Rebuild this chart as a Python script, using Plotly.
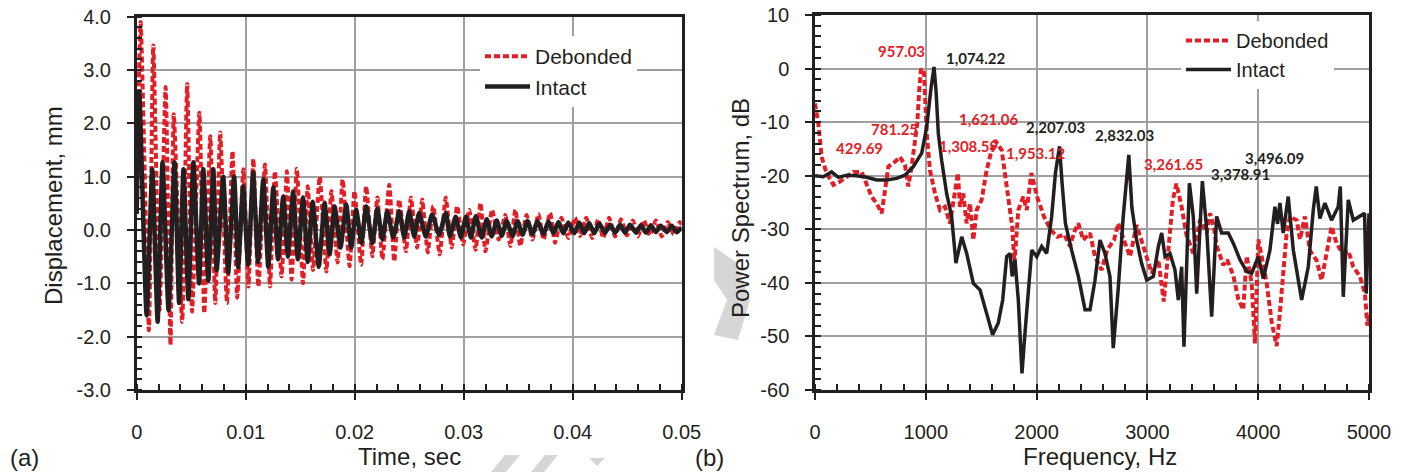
import plotly.graph_objects as go

# ---------------- data: (a) displacement time history ----------------
deb_time_ms = [0.0, 0.36, 1.12, 1.52, 2.10, 2.65, 3.10, 3.40, 4.17, 4.63,
               5.08, 5.75, 6.20, 6.75, 7.21, 7.66, 8.28, 8.79, 9.22, 9.79,
               10.25, 10.70, 11.16, 11.77, 12.23, 12.68, 13.29, 13.78, 14.21, 14.69,
               15.26, 15.69, 16.18, 16.79, 17.40, 17.86, 18.43, 18.89, 19.53, 19.98,
               20.59, 21.05, 21.62, 22.08, 22.54, 23.17, 23.63, 24.08, 24.70, 25.15,
               25.73, 26.19, 26.70, 27.20, 27.80, 28.35, 28.90, 29.40, 29.95, 30.50,
               31.09, 31.54, 32.00, 32.60, 33.21, 33.82, 34.28, 34.74, 35.19, 35.77,
               36.31, 36.86, 37.32, 37.93, 38.38, 38.96, 39.60, 40.21, 40.69, 41.24,
               41.79, 42.34, 42.79, 43.34, 43.89, 44.43, 44.98, 45.53, 45.99, 46.53,
               47.08, 47.63, 48.17, 48.72, 49.27, 49.82, 50.0]
deb_disp_mm = [0.5, 3.9, -1.88, 3.46, -1.5, 2.68, -2.16, 2.17, -1.72, 2.74,
               -1.53, 2.2, -1.56, 1.76, -1.37, 1.83, -1.37, 1.48, -1.27, 1.14,
               -1.06, 1.33, -1.06, 1.23, -1.06, 1.1, -0.87, 1.1, -0.93, 1.15,
               -1.0, 0.82, -0.75, 1.0, -0.78, 0.73, -0.61, 0.95, -0.68, 0.73,
               -0.65, 0.82, -0.49, 0.61, -0.55, 0.85, -0.59, 0.57, -0.40, 0.61,
               -0.33, 0.57, -0.42, 0.45, -0.46, 0.61, -0.33, 0.45, -0.27, 0.38,
               -0.37, 0.51, -0.40, 0.38, -0.18, 0.28, -0.30, 0.38, -0.30, 0.28,
               -0.18, 0.30, -0.18, 0.32, -0.24, 0.23, -0.15, 0.23, -0.11, 0.23,
               -0.15, 0.20, -0.15, 0.23, -0.12, 0.20, -0.10, 0.18, -0.12, 0.18,
               -0.10, 0.18, -0.12, 0.15, -0.08, 0.15, 0.10]

int_time_ms = [0.0, 0.23, 0.91, 1.43, 1.92, 2.37, 2.92, 3.47, 3.89, 4.29,
               4.74, 5.20, 5.72, 6.11, 6.57, 7.03, 7.34, 7.94, 8.39, 8.94,
               9.31, 9.76, 10.22, 10.68, 11.13, 11.61, 12.07, 12.53, 12.96, 13.44,
               13.87, 14.35, 14.78, 15.26, 15.69, 16.15, 16.70, 17.24, 17.70, 18.16,
               18.70, 19.22, 19.68, 20.14, 20.62, 21.05, 21.62, 22.08, 22.54, 22.99,
               23.54, 24.09, 24.54, 25.00, 25.46, 25.91, 26.52, 27.10, 27.74, 28.35,
               28.74, 29.26, 29.74, 30.20, 30.66, 31.11, 31.66, 32.12, 32.57, 33.03,
               33.49, 33.94, 34.49, 34.94, 35.40, 35.86, 36.31, 36.77, 37.32, 37.77,
               38.23, 38.69, 39.14, 39.60, 40.15, 40.60, 41.06, 41.51, 41.97, 42.43,
               42.97, 43.43, 43.89, 44.34, 44.80, 45.26, 45.80, 46.26, 46.71, 47.17,
               47.63, 48.08, 48.63, 49.09, 49.54, 50.0]
int_disp_mm = [0.3, 2.6, -1.6, 1.14, -1.72, 1.27, -1.5, 1.27, -1.37, 1.14,
               -1.3, 1.27, -1.0, 1.14, -0.95, 1.14, -0.75, 1.0, -0.8, 1.0,
               -0.7, 0.82, -0.65, 1.08, -0.6, 0.95, -0.69, 0.8, -0.55, 0.63,
               -0.5, 0.72, -0.55, 0.61, -0.6, 0.53, -0.69, 0.51, -0.46, 0.44,
               -0.33, 0.48, -0.33, 0.38, -0.24, 0.44, -0.24, 0.40, -0.18, 0.35,
               -0.14, 0.35, -0.14, 0.35, -0.12, 0.32, -0.12, 0.29, -0.09, 0.32,
               -0.12, 0.25, -0.14, 0.25, -0.14, 0.26, -0.14, 0.20, -0.12, 0.18,
               -0.11, 0.17, -0.11, 0.17, -0.09, 0.17, -0.08, 0.17, -0.08, 0.16,
               -0.06, 0.15, -0.06, 0.14, -0.06, 0.14, -0.06, 0.13, -0.06, 0.12,
               -0.05, 0.10, -0.05, 0.10, -0.05, 0.10, -0.05, 0.09, -0.05, 0.09,
               -0.04, 0.08, -0.04, 0.08, -0.04, 0.05]

# ---------------- data: (b) power spectrum ----------------
deb_freq_hz = [0, 30, 60, 105, 166, 226, 286, 346, 421, 466,
               511, 557, 602, 632, 662, 722, 767, 812, 842, 872,
               902, 923, 941, 957, 984, 1008, 1038, 1083, 1128, 1173,
               1218, 1254, 1290, 1308, 1338, 1368, 1399, 1429, 1459, 1504,
               1549, 1594, 1625, 1685, 1730, 1780, 1800, 1835, 1880, 1911,
               1953, 2004, 2066, 2127, 2188, 2250, 2301, 2340, 2377, 2421,
               2482, 2527, 2587, 2638, 2699, 2737, 2798, 2843, 2903, 2948,
               2994, 3039, 3099, 3148, 3189, 3230, 3262, 3309, 3352, 3384,
               3414, 3475, 3536, 3565, 3598, 3625, 3685, 3720, 3775, 3820,
               3865, 3896, 3941, 3971, 4001, 4031, 4076, 4122, 4167, 4198,
               4226, 4257, 4287, 4347, 4377, 4422, 4467, 4527, 4572, 4617,
               4662, 4707, 4761, 4813, 4858, 4918, 4963, 4985, 5000]
deb_power_db = [-6.5, -10.2, -16.5, -19.6, -21.7, -21.1, -20.2, -19.3, -19.3, -21.4,
                -23.9, -25.2, -27.0, -22.7, -18.3, -17.4, -16.5, -18.0, -22.0, -18.3,
                -13.4, -10.2, -4.0, 0.0, -0.9, -12.1, -19.0, -23.3, -26.4, -25.8,
                -28.9, -23.9, -19.5, -25.8, -23.3, -28.9, -25.2, -32.0, -26.4, -24.5,
                -19.0, -15.2, -13.4, -15.2, -21.4, -29.5, -36.3, -26.4, -23.9, -26.4,
                -19.5, -23.9, -27.6, -30.1, -31.4, -31.0, -33.2, -30.5, -28.9, -32.0,
                -30.7, -35.1, -37.6, -33.8, -32.0, -28.9, -32.6, -35.1, -29.2, -32.0,
                -35.1, -38.2, -35.7, -43.5, -33.9, -24.5, -21.5, -25.8, -31.0, -33.0,
                -34.5, -28.2, -30.7, -27.0, -29.5, -33.0, -36.7, -35.7, -38.6, -43.0,
                -45.0, -35.0, -40.0, -51.3, -31.9, -35.0, -40.0, -47.4, -51.8, -45.0,
                -38.6, -30.7, -27.6, -28.3, -31.9, -27.6, -34.0, -35.8, -39.5, -34.0,
                -29.5, -32.6, -34.5, -34.0, -37.0, -38.8, -41.9, -48.0, -46.0]

int_freq_hz = [0, 75, 150, 211, 286, 376, 466, 557, 647, 737,
               812, 887, 963, 1008, 1045, 1074, 1092, 1113, 1143, 1188,
               1233, 1272, 1324, 1369, 1429, 1489, 1549, 1603, 1654, 1694,
               1730, 1760, 1780, 1805, 1835, 1868, 1895, 1926, 1956, 2001,
               2046, 2091, 2136, 2170, 2207, 2230, 2260, 2316, 2377, 2437,
               2482, 2527, 2572, 2617, 2662, 2692, 2737, 2782, 2832, 2860,
               2903, 2948, 2994, 3054, 3099, 3129, 3159, 3204, 3249, 3279,
               3309, 3330, 3360, 3379, 3414, 3445, 3496, 3535, 3580, 3625,
               3670, 3730, 3775, 3836, 3896, 3941, 4001, 4046, 4106, 4151,
               4175, 4196, 4226, 4271, 4317, 4392, 4452, 4497, 4524, 4557,
               4602, 4662, 4722, 4741, 4768, 4813, 4858, 4918, 4960, 4975, 5000]
int_power_db = [-20.0, -20.2, -19.3, -20.3, -19.9, -20.0, -20.3, -20.8, -20.8, -20.5,
                -19.9, -18.3, -15.8, -10.9, -4.0, 0.3, -4.0, -12.1, -17.1, -23.3,
                -27.6, -36.3, -31.4, -34.5, -40.1, -41.3, -45.7, -49.7, -47.5, -43.2,
                -35.1, -34.5, -38.8, -35.7, -43.2, -56.9, -49.4, -40.7, -33.9, -35.1,
                -33.2, -34.5, -27.6, -19.5, -14.5, -21.4, -28.9, -33.9, -38.8, -45.0,
                -45.0, -39.5, -32.0, -34.5, -38.8, -52.2, -41.0, -27.6, -16.1, -26.0,
                -32.0, -36.4, -39.5, -38.8, -33.2, -30.7, -35.1, -34.5, -37.6, -43.2,
                -37.0, -51.9, -30.7, -21.4, -27.6, -42.0, -21.0, -30.0, -46.3, -27.6,
                -30.7, -30.7, -32.6, -35.7, -37.9, -38.2, -35.1, -39.2, -33.9, -25.8,
                -29.0, -25.1, -30.7, -23.9, -33.9, -43.2, -37.0, -26.4, -22.0, -28.0,
                -25.1, -28.3, -25.8, -22.0, -42.6, -24.5, -28.3, -27.6, -27.0, -42.0, -27.0]

# peak labels (frequency text, colour group)
deb_peak_labels = ["957.03", "781.25", "429.69", "1,308.59", "1,621.06", "1,953.12", "3,261.65"]
deb_peak_x = [785, 713, 406, 1384, 1570, 1992, 3240]
deb_peak_y = [3.2, -11.2, -14.8, -14.5, -9.5, -15.7, -17.8]
int_peak_labels = ["1,074.22", "2,207.03", "2,832.03", "3,378.91", "3,496.09"]
int_peak_x = [1450, 2172, 2795, 3836, 4147]
int_peak_y = [1.9, -10.85, -12.4, -19.7, -16.6]

# tick labels
time_ticks = [0, 0.01, 0.02, 0.03, 0.04, 0.05]
time_ticktext = ["0", "0.01", "0.02", "0.03", "0.04", "0.05"]
disp_ticks = [-3, -2, -1, 0, 1, 2, 3, 4]
disp_ticktext = ["-3.0", "-2.0", "-1.0", "0.0", "1.0", "2.0", "3.0", "4.0"]
freq_ticks = [0, 1000, 2000, 3000, 4000, 5000]
freq_ticktext = ["0", "1000", "2000", "3000", "4000", "5000"]
db_ticks = [-60, -50, -40, -30, -20, -10, 0, 10]
db_ticktext = ["-60", "-50", "-40", "-30", "-20", "-10", "0", "10"]

# ---------------- style ----------------
W, H = 1407, 472
RED = "#E21E26"
BLK = "#231F20"
GRID = "#A0A0A0"
FONT = "Liberation Sans, Arial, sans-serif"


def px(x):
    return x / W


def py(y):
    return 1 - y / H


fig = go.Figure()

fig.add_trace(go.Scatter(x=[t / 1000 for t in deb_time_ms], y=deb_disp_mm, name="Debonded",
                         mode="lines", line=dict(color=RED, width=4, dash="6px,3px", shape="spline", smoothing=0.5),
                         xaxis="x", yaxis="y", legend="legend"))
fig.add_trace(go.Scatter(x=[t / 1000 for t in int_time_ms], y=int_disp_mm, name="Intact",
                         mode="lines", line=dict(color=BLK, width=4.5, shape="spline", smoothing=0.5),
                         xaxis="x", yaxis="y", legend="legend"))
fig.add_trace(go.Scatter(x=deb_freq_hz, y=deb_power_db, name="Debonded",
                         mode="lines", line=dict(color=RED, width=4, dash="6px,3px"),
                         xaxis="x2", yaxis="y2", legend="legend2"))
fig.add_trace(go.Scatter(x=int_freq_hz, y=int_power_db, name="Intact",
                         mode="lines", line=dict(color=BLK, width=3.5),
                         xaxis="x2", yaxis="y2", legend="legend2"))

common = dict(showgrid=True, gridcolor=GRID, gridwidth=2, showline=True, linecolor=BLK,
              linewidth=2.5, mirror=True, ticks="outside", ticklen=7, tickwidth=2, tickcolor=BLK,
              zeroline=False, automargin=False, tickmode="array",
              tickfont=dict(family=FONT, size=20, color=BLK))

fig.update_layout(
    width=W, height=H, margin=dict(l=0, r=0, t=0, b=0),
    paper_bgcolor="white", plot_bgcolor="white",
    xaxis=dict(domain=[px(136.7), px(681.7)], range=[0, 0.05], tickvals=time_ticks, ticktext=time_ticktext,
               anchor="y", ticklabelstandoff=15,
               minor=dict(dtick=0.002, tick0=0, ticks="inside", ticklen=6, tickwidth=2, tickcolor=BLK, showgrid=False),
               **common),
    yaxis=dict(domain=[py(390), py(16.7)], range=[-3, 4], tickvals=disp_ticks, ticktext=disp_ticktext,
               anchor="x", ticklabelstandoff=12,
               minor=dict(dtick=0.2, tick0=0, ticks="inside", ticklen=6, tickwidth=2, tickcolor=BLK, showgrid=False),
               **common),
    xaxis2=dict(domain=[px(815), px(1369)], range=[0, 5000], tickvals=freq_ticks, ticktext=freq_ticktext,
                anchor="y2", ticklabelstandoff=15,
                minor=dict(dtick=200, tick0=0, ticks="inside", ticklen=6, tickwidth=2, tickcolor=BLK, showgrid=False),
                **common),
    yaxis2=dict(domain=[py(390), py(15)], range=[-60, 10], tickvals=db_ticks, ticktext=db_ticktext,
                anchor="x2", ticklabelstandoff=12,
                minor=dict(dtick=2, tick0=0, ticks="inside", ticklen=6, tickwidth=2, tickcolor=BLK, showgrid=False),
                **common),
    legend=dict(x=px(480), y=py(36), xanchor="left", yanchor="top", bgcolor="white",
                font=dict(family=FONT, size=21, color=BLK), itemwidth=45, tracegroupgap=0),
    legend2=dict(x=px(1181), y=py(21), xanchor="left", yanchor="top", bgcolor="white",
                 font=dict(family=FONT, size=20, color=BLK), itemwidth=45, tracegroupgap=0),
    showlegend=True,
)

ann = []
TITLE = dict(family=FONT, size=24, color=BLK)
ann.append(dict(text="Time, sec", x=px(409), y=py(456), xref="paper", yref="paper",
                showarrow=False, font=TITLE, xanchor="center", yanchor="middle"))
ann.append(dict(text="Frequency, Hz", x=px(1100), y=py(456), xref="paper", yref="paper",
                showarrow=False, font=TITLE, xanchor="center", yanchor="middle"))
ann.append(dict(text="Displacement, mm", x=px(54), y=py(206), xref="paper", yref="paper", textangle=-90,
                showarrow=False, font=TITLE, xanchor="center", yanchor="middle"))
ann.append(dict(text="Power Spectrum, dB", x=px(741), y=py(208), xref="paper", yref="paper", textangle=-90,
                showarrow=False, font=TITLE, xanchor="center", yanchor="middle"))
ann.append(dict(text="(a)", x=px(24), y=py(457), xref="paper", yref="paper",
                showarrow=False, font=TITLE, xanchor="center", yanchor="middle"))
ann.append(dict(text="(b)", x=px(709), y=py(457), xref="paper", yref="paper",
                showarrow=False, font=TITLE, xanchor="center", yanchor="middle"))

LBL = "Lato, Open Sans, sans-serif"
for t, x, y in zip(deb_peak_labels, deb_peak_x, deb_peak_y):
    ann.append(dict(text=t, x=x, y=y, xref="x2", yref="y2", showarrow=False,
                    font=dict(family=LBL, size=15, color=RED, weight="bold"), xanchor="center", yanchor="middle"))
for t, x, y in zip(int_peak_labels, int_peak_x, int_peak_y):
    ann.append(dict(text=t, x=x, y=y, xref="x2", yref="y2", showarrow=False,
                    font=dict(family=LBL, size=15, color=BLK, weight="bold"), xanchor="center", yanchor="middle"))
fig.update_layout(annotations=ann)

# faint watermark fragments of the source page
WM = "#D6D6D6"
def poly(pts):
    d = "M " + " L ".join(f"{px(a):.5f},{py(b):.5f}" for a, b in pts) + " Z"
    return dict(type="path", path=d, xref="paper", yref="paper", fillcolor=WM, line=dict(width=0), layer="below")

fig.update_layout(shapes=[
    poly([(491, 472), (505, 455), (520, 455), (506, 472)]),
    poly([(531, 472), (545, 455), (558, 455), (544, 472)]),
    poly([(589, 458), (605, 458), (597, 466)]),
    poly([(714, 247), (736, 262), (750, 300), (738, 340), (714, 335), (727, 300), (714, 280)]),
])

fig.write_html("out.html")
